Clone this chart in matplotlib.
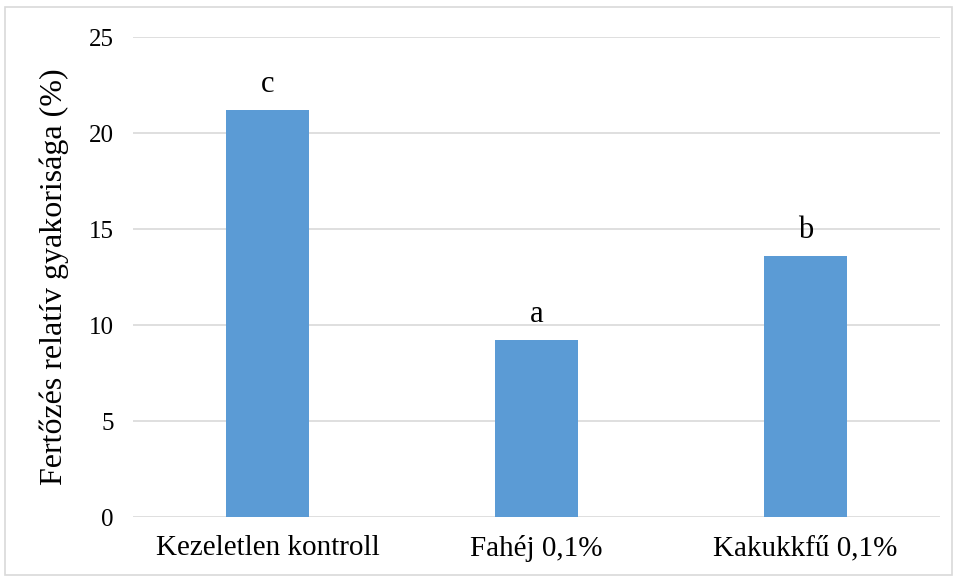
# Oszlopdiagram: fertőzés relatív gyakorisága kezelésenként
import matplotlib.pyplot as plt
from matplotlib.patches import Rectangle

plt.rcParams['font.family'] = ['Liberation Serif', 'DejaVu Serif']

# Adatok
kezelesek = ['Kezeletlen kontroll', 'Fahéj 0,1%', 'Kakukkfű 0,1%']
gyakorisag = [21.2, 9.2, 13.6]
betuk = ['c', 'a', 'b']
y_tickek = [0, 5, 10, 15, 20, 25]

fig = plt.figure(figsize=(9.58, 5.8), dpi=100)
ax = fig.add_axes([133/958, 63/580, 807/958, 480/580])

x = range(len(kezelesek))
ax.bar(x, gyakorisag, width=0.31, color='#5B9BD5', zorder=3)

for i, (v, b) in enumerate(zip(gyakorisag, betuk)):
    ax.text(i, v + 0.95, b, ha='center', va='baseline', fontsize=22)

ax.set_xlim(-0.5, 2.5)
ax.set_ylim(0, 25)
ax.set_yticks(y_tickek)
ax.set_xticks(list(x))
ax.set_xticklabels(kezelesek)
ax.tick_params(axis='both', length=0)
ax.tick_params(axis='y', pad=14, labelsize=18)
ax.tick_params(axis='x', pad=13, labelsize=21)
ax.grid(axis='y', color='#D9D9D9', linewidth=1.2, zorder=0)
for s in ax.spines.values():
    s.set_visible(False)

ax.set_ylabel('Fertőzés relatív gyakorisága (%)', fontsize=23, labelpad=14)

# szürke keret a diagram körül
fig.patches.append(Rectangle((5/958, 5/580), 947/958, 568/580, transform=fig.transFigure,
                             fill=False, edgecolor='#D9D9D9', linewidth=1.2))

plt.savefig('out.png', dpi=100)
